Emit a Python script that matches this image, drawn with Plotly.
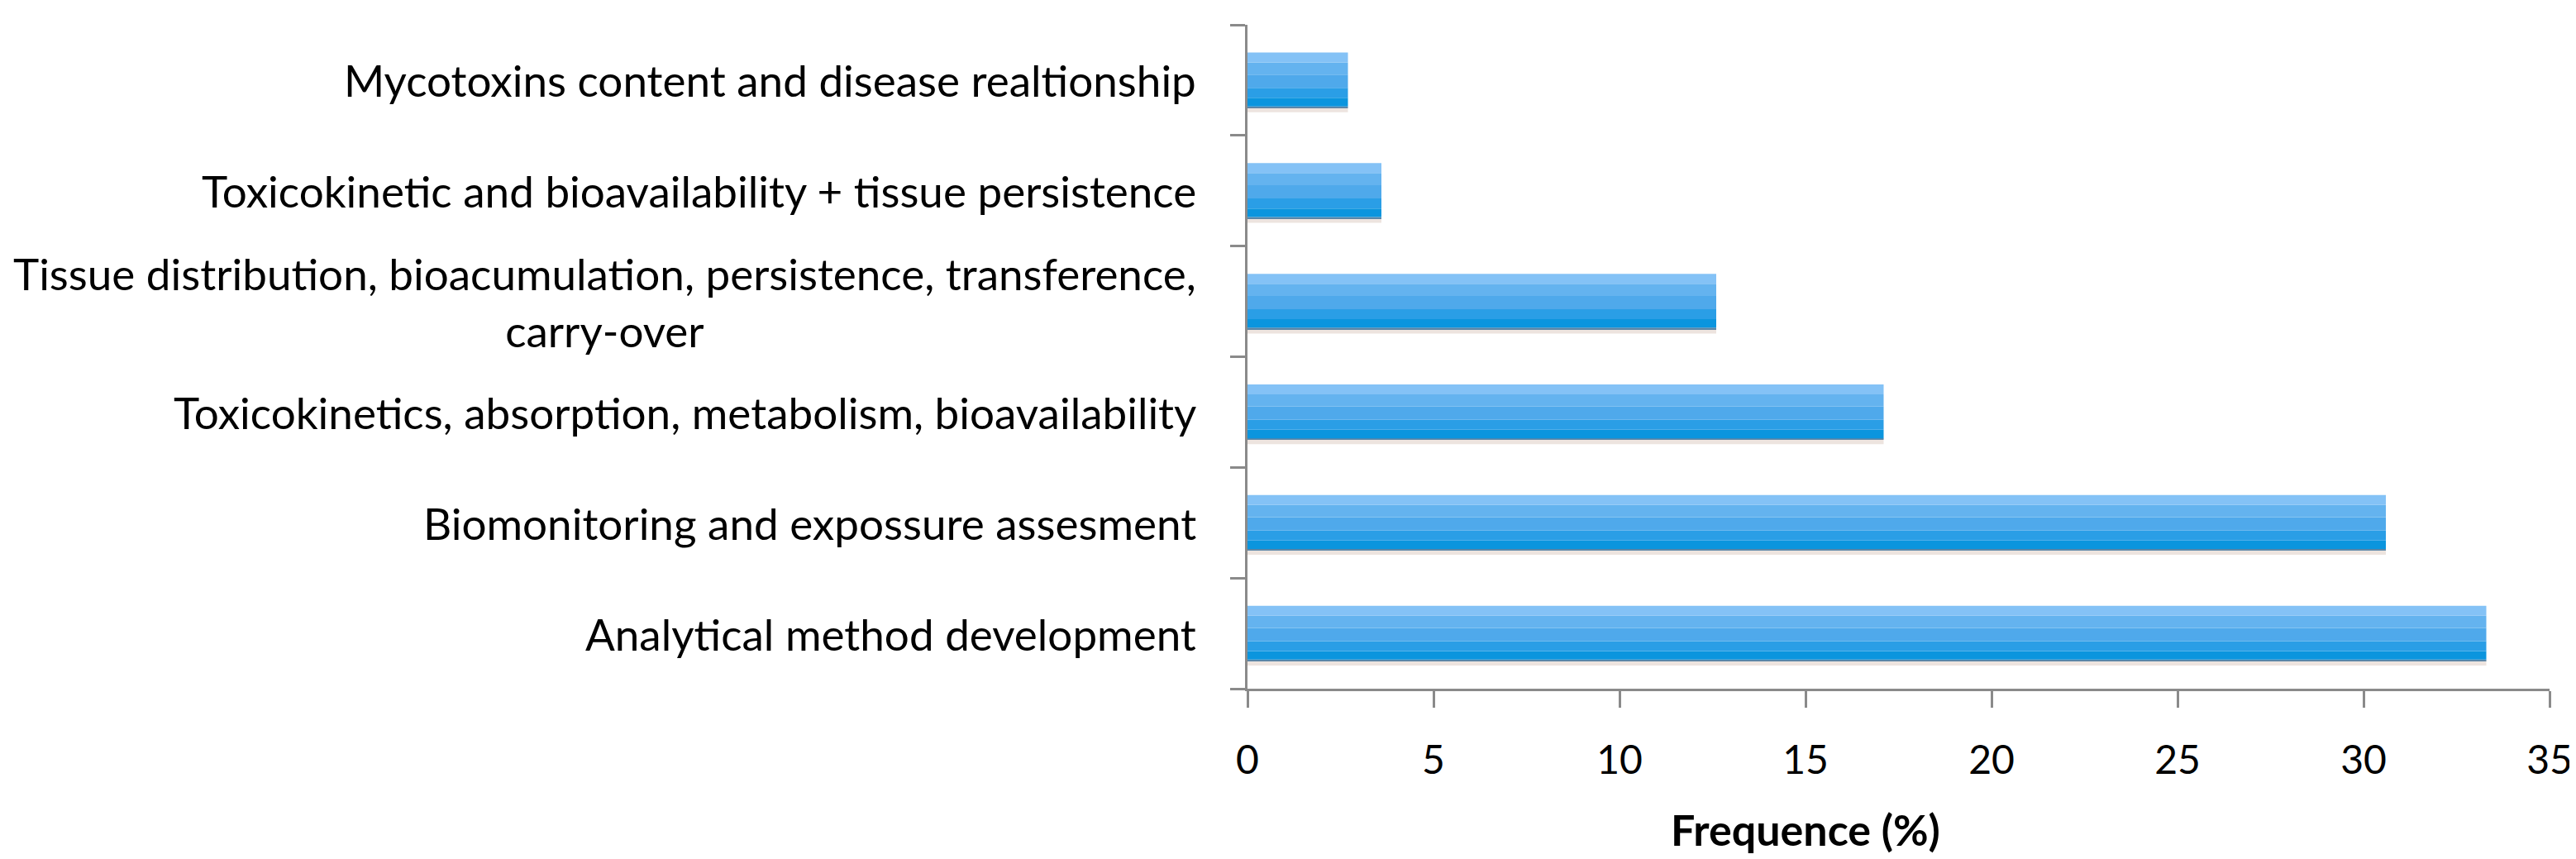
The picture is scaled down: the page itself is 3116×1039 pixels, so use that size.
import plotly.graph_objects as go

categories = [
    "Analytical method development",
    "Biomonitoring and expossure assesment",
    "Toxicokinetics, absorption, metabolism, bioavailability",
    "Tissue distribution, bioacumulation, persistence, transference,<br>carry-over",
    "Toxicokinetic and bioavailability + tissue persistence",
    "Mycotoxins content and disease realtionship",
]
values = [33.3, 30.6, 17.1, 12.6, 3.6, 2.7]
x_ticks = [0, 5, 10, 15, 20, 25, 30, 35]
x_title = "Frequence (%)"

FONT = "Lato"
Y_DOMAIN_BOTTOM = 0.063   # leaves room between the axis line and its labels

fig = go.Figure()

# horizontal colour bands (bottom to top) to mimic the glossy gradient look
bands = [
    # (lower edge, upper edge, color) relative to category centre
    (-0.29, -0.25, "rgba(215,195,185,0.45)"),
    (-0.25, -0.237, "#5a86a8"),
    (-0.237, -0.16, "#0b95de"),
    (-0.16, -0.07, "#2a9ee6"),
    (-0.07, 0.05, "#4fa9eb"),
    (0.05, 0.16, "#64b3ef"),
    (0.16, 0.25, "#84c2f6"),
]
for lo, hi, col in bands:
    fig.add_trace(go.Bar(
        x=values, y=list(range(len(categories))), orientation="h",
        offset=lo, width=hi - lo, marker=dict(color=col, line=dict(width=0)),
        showlegend=False, hoverinfo="skip",
    ))

# invisible trace that carries the tick-label axis
fig.add_trace(go.Scatter(
    x=values, y=list(range(len(categories))), xaxis="x2", mode="markers",
    marker=dict(opacity=0), showlegend=False, hoverinfo="skip",
))

for i, c in enumerate(categories):
    fig.add_annotation(
        x=0, y=i, xref="x", yref="y", text=c, showarrow=False,
        xanchor="right", yanchor="middle", align="center", xshift=-60,
        font=dict(family=FONT, size=53, color="#000000"),
    )

# axis title (sits slightly left of the axis centre in the original)
fig.add_annotation(
    x=0.4286, y=-0.135, xref="paper", yref="paper", text="<b>" + x_title + "</b>",
    showarrow=False, xanchor="center", yanchor="middle",
    font=dict(family=FONT, size=52, color="#000000"),
)

fig.update_layout(
    width=3116, height=1039,
    barmode="overlay",
    paper_bgcolor="white", plot_bgcolor="white",
    margin=dict(l=1501, r=40, t=22, b=160),
    font=dict(family=FONT, size=48, color="#000000"),
    xaxis=dict(
        range=[0, 35], tickvals=x_ticks, ticks="outside", ticklen=20, tickwidth=3,
        tickcolor="#8a8a8a", showline=True, linecolor="#8a8a8a", linewidth=3,
        showgrid=False, zeroline=False, showticklabels=False, anchor="y",
    ),
    xaxis2=dict(
        range=[0, 35], tickvals=x_ticks, overlaying="x", anchor="free", position=0,
        side="bottom", showline=False, ticks="", showgrid=False, zeroline=False,
        tickfont=dict(family=FONT, size=48, color="#000000"),
    ),
    yaxis=dict(
        domain=[Y_DOMAIN_BOTTOM, 1],
        range=[-0.5, 5.5], tickvals=[i - 0.5 for i in range(len(categories) + 1)],
        showticklabels=False, ticks="outside", ticklen=18, tickwidth=3,
        tickcolor="#8a8a8a", showline=True, linecolor="#8a8a8a", linewidth=3,
        showgrid=False, zeroline=False,
    ),
)

fig.write_html("out.html")
